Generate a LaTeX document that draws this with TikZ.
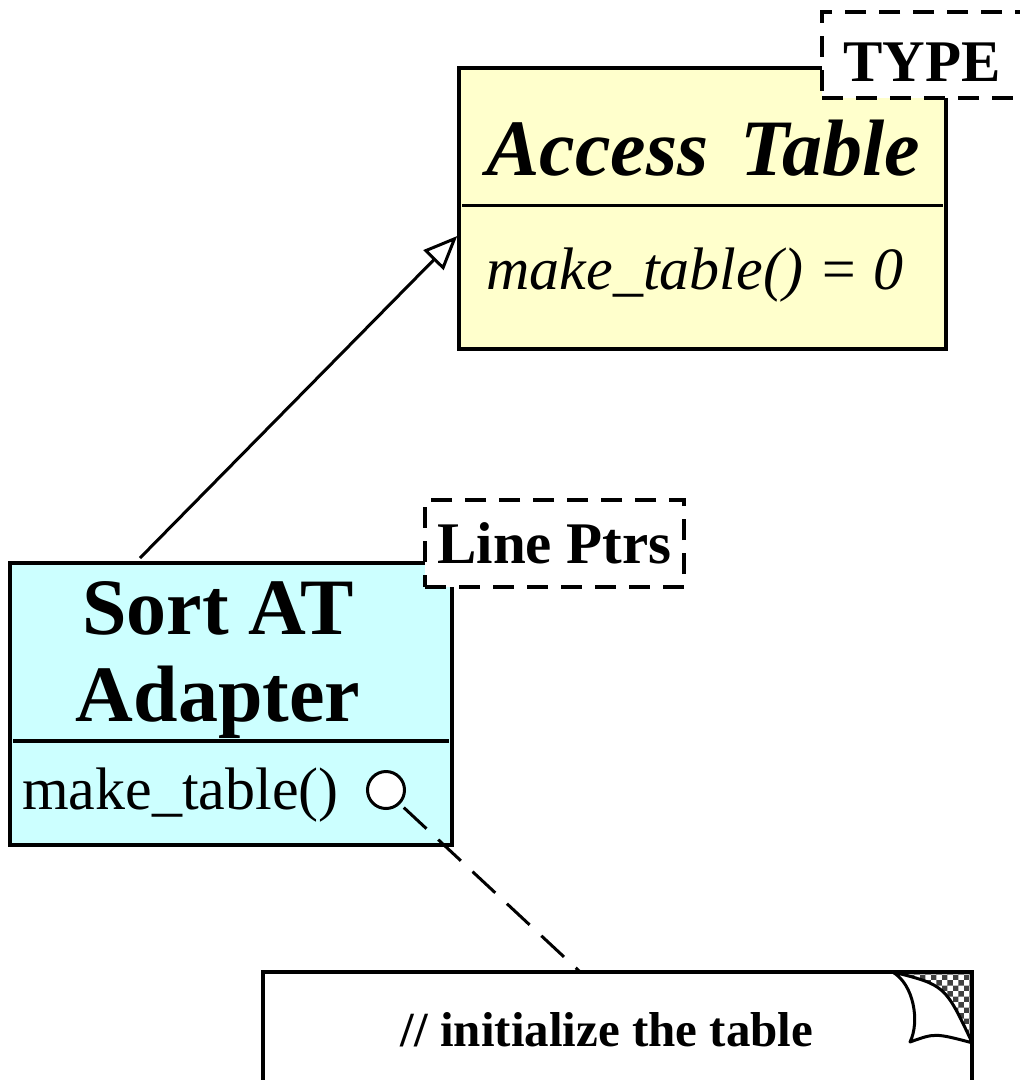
\documentclass[tikz,border=0pt]{standalone}
\usepackage{fontspec}
\setmainfont{Liberation Serif}
\usetikzlibrary{arrows.meta,positioning,patterns}
\definecolor{atgul}{HTML}{FFFFCC}
\definecolor{atcyan}{HTML}{CCFFFF}
\tikzset{
    %Define style for class boxes
    kasse/.style={
           rectangle,
           draw=black, line width=3.5pt,
           inner sep=0pt},
    %Define style for the compartment lines
    skille/.style={
           line width=3.5pt,
           shorten <=5pt,
           shorten >=5pt},
    %Define style for dashed tags
    merke/.style={
           rectangle,
           draw=black, fill=white,
           line width=3.5pt,
           dash pattern=on 21pt off 13pt,
           font=\fontsize{59}{66}\selectfont\bfseries,
           inner sep=0pt},
    % Define arrow style
    pil/.style={
           -{Triangle[open,length=34pt,width=28pt]},
           line width=3pt},
    % Define style for the note link
    lenke/.style={
           line width=3pt,
           dash pattern=on 31pt off 16pt,
           shorten <=5pt},
}

\begin{document}
\begin{tikzpicture}[x=1pt,y=-1pt]
 \useasboundingbox (0,0) rectangle (1020,1080);
 %classes
 \node[kasse, fill=atgul, minimum width=487pt, minimum height=281pt] (access) at (702.5,208.5) {};
 \node[font=\fontsize{80}{87}\selectfont\bfseries\itshape] (accesstitle) at (703,148) {Access\hspace{0.4em}Table};
 \draw[skille] (access.west |- 0,205.5) -- (access.east |- 0,205.5);
 \node[font=\fontsize{60}{66}\selectfont\itshape] (accessop) at (695,275) {make\_table() = 0};
 \node[merke, minimum width=200pt, minimum height=86pt, text height=53pt] (type) at (922,55) {TYPE};

 \node[kasse, fill=atcyan, minimum width=442pt, minimum height=282pt] (sort) at (231,704) {};
 \node[font=\fontsize{80}{87}\selectfont\bfseries, align=center] (sorttitle) at (218,660) {Sort AT\\Adapter};
 \draw[skille] (sort.west |- 0,741) -- (sort.east |- 0,741);
 \node[font=\fontsize{60}{66}\selectfont, anchor=west, inner sep=0pt] (sortop) at (22,795) {make\_table()};
 \node[circle, draw, line width=3pt, fill=white, minimum size=37pt, inner sep=0pt] (hul) at (386,790) {};
 \node[merke, minimum width=259pt, minimum height=87pt] (ptrs) at (554.5,543.5) {Line Ptrs};

 % generalization
 \coordinate (fra) at (140,558);
 \draw[pil] (fra) -- (access.west |- 0,236);

 % the note with its folded corner
 \node[minimum width=709pt, minimum height=256pt, inner sep=0pt] (note) at (617.5,1100) {};
 \coordinate (brett) at ([xshift=-80pt]note.north east);
 \coordinate (bunn) at ([yshift=-71pt]note.north east);
 \fill[pattern=checkerboard, pattern color=black!75] (brett) -- (note.north east) -- (bunn) .. controls (945,985) .. (brett);
 \draw[line width=3.5pt] (note.south west) rectangle (note.north east);
 \draw[line width=3pt, fill=white, line join=round] (brett) .. controls (914,984) and (920,1022) .. (910,1042)
   .. controls (935,1033) .. (bunn) .. controls (945,985) .. (brett);
 \node[font=\fontsize{49}{55}\selectfont\bfseries] (notetext) at (607,1030) {// initialize the table};
 \draw[lenke] (hul.south east) -- (note.north -| 580,0);
\end{tikzpicture}
\end{document}
